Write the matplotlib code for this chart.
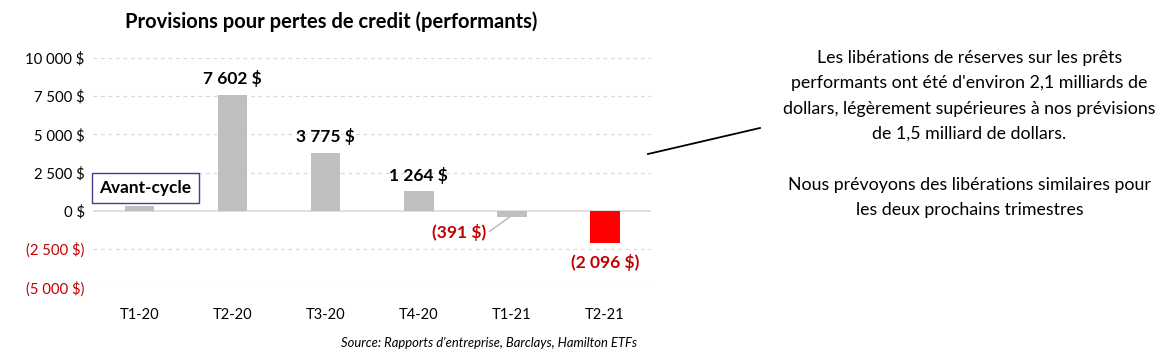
import matplotlib
matplotlib.use("Agg")
import matplotlib.pyplot as plt

plt.rcParams['font.family'] = ['Lato', 'DejaVu Sans']

categories = ["T1-20", "T2-20", "T3-20", "T4-20", "T1-21", "T2-21"]
values = [280, 7602, 3775, 1264, -391, -2096]
labels = ["", "7 602 $", "3 775 $", "1 264 $", "(391 $)", "(2 096 $)"]
yticks = [-5000, -2500, 0, 2500, 5000, 7500, 10000]
ytick_labels = ["(5 000 $)", "(2 500 $)", "0 $", "2 500 $", "5 000 $", "7 500 $", "10 000 $"]

grey = "#bfbfbf"
red = "#c00000"
colors = [grey] * 5 + ["#ff0000"]

fig = plt.figure(figsize=(11.61, 3.54), dpi=100)
ax = fig.add_axes([0.080, 0.189, 0.481, 0.647])

x = list(range(len(categories)))
ax.bar(x, values, width=0.32, color=colors, zorder=3)

ax.set_xlim(-0.5, 5.5)
ax.set_ylim(-5000, 10000)
ax.set_yticks(yticks)
ax.set_yticklabels(ytick_labels, fontsize=10.7)
for t, v in zip(ax.get_yticklabels(), yticks):
    t.set_color(red if v < 0 else "black")
ax.set_xticks(x)
ax.set_xticklabels(categories, fontsize=10.5)
ax.tick_params(axis="both", length=0)
ax.tick_params(axis="x", pad=15)
ax.tick_params(axis="y", pad=6)
for s in ax.spines.values():
    s.set_visible(False)
for v in yticks:
    if v == 0:
        ax.axhline(0, color="#d9d9d9", lw=1.2, zorder=2)
    else:
        ax.axhline(v, color="#d9d9d9", lw=0.9, ls=(0, (3, 3)), zorder=1)

# data labels
for i in (1, 2, 3):
    ax.text(i, values[i] + 500, labels[i], ha="center", va="bottom", fontsize=12.5, fontweight="bold")
ax.text(3.43, -1420, labels[4], ha="center", va="center", fontsize=12.5, fontweight="bold", color=red)
ax.plot([3.76, 3.98], [-1360, -400], color="#a6a6a6", lw=0.8, zorder=4)
ax.text(5, -3400, labels[5], ha="center", va="center", fontsize=12.5, fontweight="bold", color=red)

ax.text(0.065, 1490, "Avant-cycle", ha="center", va="center", fontsize=12.4, fontweight="bold",
        bbox=dict(boxstyle="square,pad=0.42", fc="white", ec="#3f3f8f", lw=1.0), zorder=5)

fig.text(0.285, 0.94, "Provisions pour pertes de credit (performants)", ha="center", va="center",
         fontsize=14.5, fontweight="bold")

fig.text(0.835, 0.729, "Les libérations de réserves sur les prêts\nperformants ont été d'environ 2,1 milliards de\n"
         "dollars, légèrement supérieures à nos prévisions\nde 1,5 milliard de dollars.",
         ha="center", va="center", fontsize=12.8, linespacing=1.72)
fig.text(0.835, 0.442, "Nous prévoyons des libérations similaires pour\nles deux prochains trimestres",
         ha="center", va="center", fontsize=12.8, linespacing=1.72)

fig.add_artist(plt.Line2D([648 / 1161, 760 / 1161], [1 - 154 / 354, 1 - 128 / 354], color="black", lw=1.3))

fig.text(0.549, 0.03, "Source: Rapports d'entreprise, Barclays, Hamilton ETFs", ha="right", va="center",
         fontsize=9.4, style="italic")

fig.savefig("out.png", dpi=100)
